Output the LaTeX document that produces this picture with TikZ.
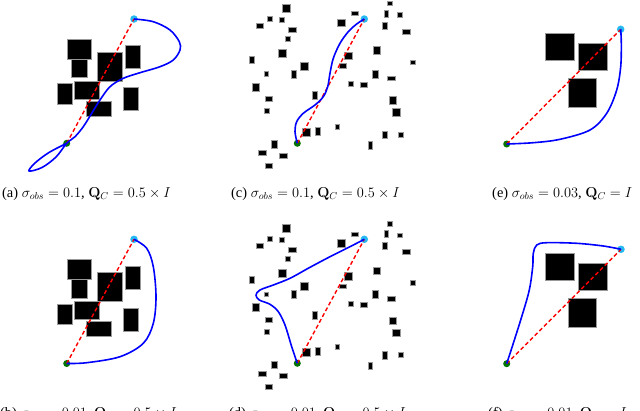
\documentclass[tikz,border=0pt]{standalone}
\usepackage[no-math]{fontspec}
\setmainfont{Liberation Serif}
\begin{document}
\begin{tikzpicture}[x=1pt,y=-1pt,
  obs/.style={fill=black,draw=black!40,line width=0.5pt},
  traj/.style={draw=blue,line width=1.6pt,line join=round},
  direct/.style={draw=red,line width=1.4pt,dash pattern=on 4pt off 2.6pt},
  startpt/.style={circle,fill=green!45!black,inner sep=0pt,minimum size=7pt},
  goalpt/.style={circle,fill=cyan!85!white,inner sep=0pt,minimum size=7.5pt},
  captxt/.style={anchor=base west,inner sep=0pt,font=\fontsize{14.4}{17}\selectfont}]
\useasboundingbox (0,0) rectangle (640,410);
\clip (0,0) rectangle (640,410);
% ---------- obstacle sets ----------
\newcommand{\obsFew}{%
  \fill[obs] (67.7,39) rectangle (91,59.3);
  \fill[obs] (71.7,59.3) rectangle (87,77.7);
  \fill[obs] (97,52.3) rectangle (122.3,81);
  \fill[obs] (125.7,45.7) rectangle (140.7,68.7);
  \fill[obs] (57,83.7) rectangle (72.3,104.3);
  \fill[obs] (74.3,81) rectangle (99.7,99.3);
  \fill[obs] (86,101) rectangle (111.7,116.3);
  \fill[obs] (123,87.7) rectangle (138.3,110.7);}
\newcommand{\obsMany}{%
  \fill[obs] (282.3,4.3) rectangle (290.3,12.3);
  \fill[obs] (387.7,1) rectangle (392.7,5.7);
  \fill[obs] (267.7,16) rectangle (272.7,21);
  \fill[obs] (279.3,17.3) rectangle (284.3,22.3);
  \fill[obs] (351,11.7) rectangle (358.7,15.7);
  \fill[obs] (384,10) rectangle (388.7,17.3);
  \fill[obs] (397.3,12.7) rectangle (402,17.3);
  \fill[obs] (256,23) rectangle (263.7,28);
  \fill[obs] (337.7,19.3) rectangle (345.3,26.7);
  \fill[obs] (288.7,27.3) rectangle (296.3,32);
  \fill[obs] (382.7,22) rectangle (387.3,29.3);
  \fill[obs] (402.3,29.3) rectangle (410,34.3);
  \fill[obs] (285,36) rectangle (290,41);
  \fill[obs] (278.3,49.3) rectangle (286,57);
  \fill[obs] (373.3,46.7) rectangle (380.7,54.3);
  \fill[obs] (344.3,52) rectangle (352,59.7);
  \fill[obs] (249.3,56) rectangle (254,63.3);
  \fill[obs] (410.3,60) rectangle (415,64.7);
  \fill[obs] (300.7,62.3) rectangle (308.3,70);
  \fill[obs] (339.3,63.7) rectangle (346.7,68.3);
  \fill[obs] (291.7,70.3) rectangle (296.3,78);
  \fill[obs] (264,71.7) rectangle (268.7,76.3);
  \fill[obs] (372.7,70.3) rectangle (378,78);
  \fill[obs] (387.7,76) rectangle (395.3,80.7);
  \fill[obs] (252,83.3) rectangle (259.7,91);
  \fill[obs] (348.3,81) rectangle (353,86);
  \fill[obs] (360,82.3) rectangle (367.7,87.3);
  \fill[obs] (312.3,91) rectangle (317.7,99.3);
  \fill[obs] (265,96.7) rectangle (272.7,101.7);
  \fill[obs] (389,96.7) rectangle (396.7,104.3);
  \fill[obs] (264,108.7) rectangle (269,113.7);
  \fill[obs] (392.7,108.7) rectangle (400.3,116.3);
  \fill[obs] (335,124.3) rectangle (339.7,129);
  \fill[obs] (302.7,128.3) rectangle (310,136);
  \fill[obs] (315,127.3) rectangle (320,135);
  \fill[obs] (382.7,131) rectangle (387.3,138.7);
  \fill[obs] (398.7,132.3) rectangle (403.3,137);
  \fill[obs] (271.7,140.7) rectangle (277,148);
  \fill[obs] (368,141.7) rectangle (372.7,149);
  \fill[obs] (258.3,150.7) rectangle (266,155.7);
  \fill[obs] (279.3,153.3) rectangle (287,158.3);
  \fill[obs] (265,163.5) rectangle (272,168.5);}
\newcommand{\obsThree}{%
  \fill[obs] (545.3,33.7) rectangle (574.3,60.3);
  \fill[obs] (578.7,43.7) rectangle (607.7,70.3);
  \fill[obs] (568,78.3) rectangle (596.3,107.3);}
% ---------- top row ----------
\obsFew \obsMany \obsThree
\node[startpt] (sa) at (66.7,143.3) {};
\node[goalpt] (ga) at (134,19) {};
\draw[direct] (sa.center) -- (ga.center);
\draw[traj] plot[smooth,tension=0.55] coordinates {(134,19) (153.3,21.7) (170,30) (179.3,41.7) (180,50) (173.3,60) (160,66.7) (140,72.7) (123.3,78.3) (110,86.7) (100,100) (91.7,113.3) (83.3,126.7) (75,136.7) (66.7,143.3) (56,157) (42,167.5) (29,171) (35,163) (49,152.5) (66.7,143.3)};
\node[startpt] (sc) at (297.3,143.3) {};
\node[goalpt] (gc) at (364.3,19) {};
\draw[direct] (sc.center) -- (gc.center);
\draw[traj] plot[smooth,tension=0.55] coordinates {(364.3,19) (356.7,24) (348.3,31.7) (340,43.3) (333.3,58.3) (330,73.3) (327.7,86.7) (323.3,96.7) (315,105) (303.3,113.3) (296.7,121.7) (295,131.7) (297.3,143.3)};
\node[startpt] (se) at (506.7,144) {};
\node[goalpt] (ge) at (620.7,29.3) {};
\draw[direct] (se.center) -- (ge.center);
\draw[traj] plot[smooth,tension=0.55] coordinates {(620.7,29.3) (621.3,43.3) (620.7,66.7) (616.7,90) (606.7,113.3) (590,130) (560,139.3) (533.3,142.7) (506.7,144)};
% ---------- bottom row ----------
\begin{scope}[shift={(0,220.3)}]
\obsFew \obsMany
\end{scope}
\begin{scope}[shift={(0,219.8)}]
\obsThree
\end{scope}
\node[startpt] (sb) at (66.7,363.5) {};
\node[goalpt] (gb) at (134,239.3) {};
\draw[direct] (sb.center) -- (gb.center);
\draw[traj] plot[smooth,tension=0.55] coordinates {(134,239.3) (146.7,248.3) (153.3,266.7) (156,296.7) (153.3,323.3) (143.3,343.3) (120,356.7) (86.7,362.7) (66.7,363.5)};
\node[startpt] (sd) at (297.3,363.3) {};
\node[goalpt] (gd) at (364.3,239.3) {};
\draw[direct] (sd.center) -- (gd.center);
\draw[traj] plot[smooth,tension=0.55] coordinates {(364.3,239.3) (350,246.7) (330,256.7) (310,267.3) (290,278.3) (273.3,285) (260,290) (256,295) (259.3,300) (270,304.3) (278.3,311.7) (285,325) (291.7,346.7) (297.3,363.3)};
\node[startpt] (sf) at (506.7,363.7) {};
\node[goalpt] (gf) at (621,249.3) {};
\draw[direct] (sf.center) -- (gf.center);
\draw[traj] plot[smooth,tension=0.55] coordinates {(506.7,363.7) (513.3,343.3) (521.7,316.7) (529.3,290) (532.7,266.7) (533.3,253.3) (536.7,245) (546.7,242.7) (576.7,243.3) (603.3,246) (621,249.3)};
% ---------- captions ----------
\node[captxt] (ca) at (2,197.5) {(a) $\sigma_{obs}=0.1$, $\mathbf{Q}_C=0.5\times I$};
\node[captxt] (cc) at (231,197.5) {(c) $\sigma_{obs}=0.1$, $\mathbf{Q}_C=0.5\times I$};
\node[captxt] (ce) at (492,197.5) {(e) $\sigma_{obs}=0.03$, $\mathbf{Q}_C=I$};
\node[captxt] (cb) at (0,417.5) {(b) $\sigma_{obs}=0.01$, $\mathbf{Q}_C=0.5\times I$};
\node[captxt] (cd) at (229,417.5) {(d) $\sigma_{obs}=0.01$, $\mathbf{Q}_C=0.5\times I$};
\node[captxt] (cf) at (488,417.5) {(f) $\sigma_{obs}=0.01$, $\mathbf{Q}_C=I$};
\end{tikzpicture}
\end{document}
